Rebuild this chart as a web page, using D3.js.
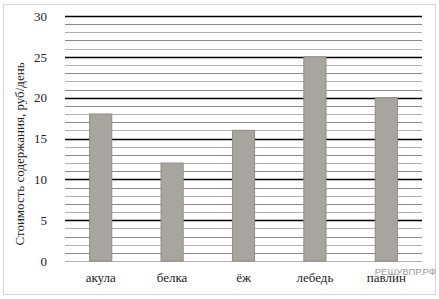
<!DOCTYPE html>
<html>
<head>
<meta charset="utf-8">
<script src="https://cdn.jsdelivr.net/npm/d3@7"></script>
<style>
  body { margin: 0; background: #fff; }
  text { font-family: "Liberation Serif", "DejaVu Serif", serif; }
</style>
</head>
<body>
<svg id="chart"></svg>
<script>
// Chart data
const categories = ["акула", "белка", "ёж", "лебедь", "павлин"];
const costs = [18, 12, 16, 25, 20];
const yTicks = [0, 5, 10, 15, 20, 25, 30];
const yLabel = "Стоимость содержания, руб/день";

const width = 439;
const height = 299;
const margin = { top: 16, right: 17, bottom: 38, left: 65 };

const svg = d3.select("#chart")
    .attr("width", width)
    .attr("height", height);

// Outer frame
svg.append("rect")
    .attr("x", 3.5).attr("y", 4.5)
    .attr("width", width - 7).attr("height", height - 9)
    .attr("fill", "none")
    .attr("stroke", "#d4d4d4");

const x = d3.scaleBand()
    .domain(categories)
    .range([margin.left, width - margin.right])
    .paddingInner(0.69)
    .paddingOuter(0.345);

const y = d3.scaleLinear()
    .domain([0, 30])
    .range([height - margin.bottom, margin.top]);

// Gridlines every 1 unit, darker every 5
const grid = svg.append("g");
grid.selectAll("line")
    .data(d3.range(0, 31))
    .enter()
    .append("line")
    .attr("x1", margin.left)
    .attr("x2", width - margin.right)
    .attr("y1", d => Math.round(y(d)) + 0.5)
    .attr("y2", d => Math.round(y(d)) + 0.5)
    .attr("stroke", d => (d % 5 === 0 && d > 0) ? "#000" : (d % 2 ? "#8a8a8a" : "#b0b0b0"))
    .attr("stroke-width", d => (d % 5 === 0 && d > 0) ? 1.4 : 1.2);

// Bars
svg.append("g")
    .selectAll("rect")
    .data(costs)
    .enter()
    .append("rect")
    .attr("x", (d, i) => x(categories[i]))
    .attr("y", d => y(d))
    .attr("width", x.bandwidth())
    .attr("height", d => y(0) - y(d))
    .attr("fill", "#a8a5a1")
    .attr("stroke", "#8f8c88")
    .attr("stroke-width", 1);

// Y axis
const yAxis = d3.axisLeft(y)
    .tickValues(yTicks)
    .tickSize(0)
    .tickPadding(18);

svg.append("g")
    .attr("transform", `translate(${margin.left},0)`)
    .call(yAxis)
    .call(g => g.select(".domain").remove())
    .selectAll("text")
    .attr("font-size", 13)
    .attr("fill", "#222")
    .style("font-family", "Liberation Serif, serif");

// X axis
const xAxis = d3.axisBottom(x)
    .tickSize(0)
    .tickPadding(12);

svg.append("g")
    .attr("transform", `translate(0,${height - margin.bottom})`)
    .call(xAxis)
    .call(g => g.select(".domain").remove())
    .selectAll("text")
    .attr("font-size", 13)
    .attr("fill", "#222")
    .style("font-family", "Liberation Serif, serif");

// Y axis title
svg.append("text")
    .attr("transform", `translate(24,${154}) rotate(-90)`)
    .attr("text-anchor", "middle")
    .attr("font-size", 13)
    .attr("fill", "#222")
    .text(yLabel);

// Watermark
svg.append("text")
    .attr("x", 436)
    .attr("y", 275)
    .attr("text-anchor", "end")
    .attr("font-size", 9.5)
    .attr("fill", "#9a9a9a")
    .style("font-family", "Liberation Sans, Arial, sans-serif")
    .text("РЕШУВПР.РФ");
</script>
</body>
</html>
